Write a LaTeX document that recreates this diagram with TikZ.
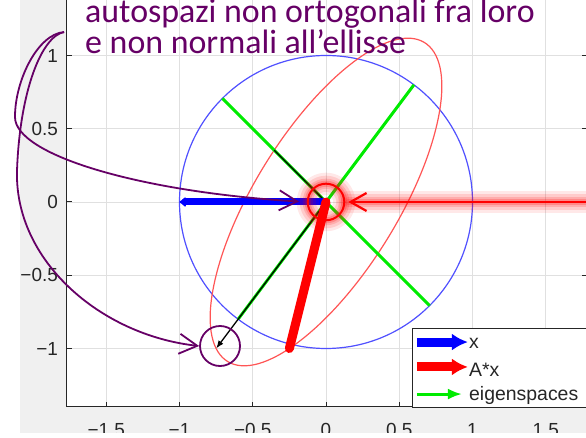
\documentclass[tikz,border=0pt]{standalone}
\usepackage{fontspec}
\setmainfont{Liberation Sans}
\newfontfamily\notefont{Carlito}
\usetikzlibrary{arrows.meta,positioning}
\definecolor{figgray}{RGB}{240,240,240}
\definecolor{gridgray}{RGB}{224,224,224}
\definecolor{axisgray}{RGB}{38,38,38}
\definecolor{notepurple}{RGB}{102,0,102}
\definecolor{circleblue}{RGB}{80,80,255}
\definecolor{ellipsered}{RGB}{255,85,85}
\definecolor{eiggreen}{RGB}{0,235,0}
\tikzset{
  plot-grid/.style={draw=gridgray, line width=0.9bp},
  plot-axis/.style={draw=axisgray, line width=1bp},
  plot-tick/.style={font=\fontsize{19}{22}\selectfont, text=axisgray, inner sep=0pt},
  unit-circle/.style={draw=circleblue, line width=1.2bp},
  image-ellipse/.style={draw=ellipsered, line width=1.2bp},
  eigen-line/.style={draw=eiggreen, line width=3bp},
  eigen-image/.style={draw=black, line width=1.3bp},
  x-vec/.style={draw=blue, line width=7bp, line cap=round},
  ax-vec/.style={draw=red, line width=9bp, line cap=round},
  legend-box/.style={draw=axisgray, fill=white, line width=1bp, inner sep=0pt},
  legend-vec/.style={line width=9bp, -{Latex[length=16bp,width=17bp]}},
  legend-eig/.style={draw=eiggreen, line width=3bp, -{Latex[length=14bp,width=11bp]}},
  legend-label/.style={font=\fontsize{19.5}{22}\selectfont, text=axisgray, anchor=base west, inner sep=0pt},
  red-ring/.style={circle, draw=red, line width=2bp, minimum size=36.6bp, inner sep=0pt},
  red-glow/.style={draw=red, opacity=#1, line cap=round, line join=round},
  red-note/.style={draw=red, line width=2.2bp, -{Straight Barb[length=16bp,width=18bp]}},
  note-arrow/.style={draw=notepurple, line width=1.8bp, -{Straight Barb[length=18bp,width=20bp]}},
  note-circle/.style={circle, draw=notepurple, line width=1.8bp, minimum size=40bp, inner sep=0pt},
  note-text/.style={anchor=base west, inner sep=0pt, text=notepurple,
    font=\notefont\fontsize{34}{30}\selectfont}
}
\begin{document}
\begin{tikzpicture}[x=146.5bp, y=146.5bp]
  \useasboundingbox (-2.2253,-1.6109) rectangle (1.7747,1.3788);

  % figure window, cropped
  \begin{scope}
    \clip (-2.0887,-1.5768) rectangle (1.7747,1.3788);
    \fill[figgray] (-2.1,-1.6) rectangle (1.8,1.4);
    \fill[white] (-1.770,-1.3993) rectangle (1.78,1.4);
    \foreach \gx in {-1.5,-1,-0.5,0,0.5,1,1.5}
      \draw[plot-grid] (\gx,-1.3993) -- (\gx,1.4);
    \foreach \gy in {-1,-0.5,0,0.5,1}
      \draw[plot-grid] (-1.770,\gy) -- (1.78,\gy);

    \coordinate (O) at (0,0);
    \coordinate (x-end) at (-1,0);
    \coordinate (ax-end) at (-0.25,-1);
    \coordinate (eig1-a) at (-0.6,-0.8);
    \coordinate (eig1-b) at (0.6,0.8);
    \coordinate (eig2-a) at (-0.7071,0.7071);
    \coordinate (eig2-b) at (0.7071,-0.7071);
    \coordinate (aeig1) at (-0.75,-1);
    \coordinate (aeig2) at (-0.3536,0.3536);

    % circle and its image
    \draw[unit-circle] (O) circle[radius=1];
    \draw[image-ellipse, cm={0.25,1,0.75,0.5,(0,0)}] (O) circle[radius=1];

    % eigenspaces and their images
    \draw[eigen-line] (eig1-a) -- (eig1-b);
    \draw[eigen-line] (eig2-a) -- (eig2-b);
    \draw[eigen-image, -{Latex[length=8bp,width=6bp]}] (O) -- (aeig1);
    \draw[eigen-image] (O) -- (aeig2);

    % x and A*x
    \draw[x-vec, -{Latex[length=7bp,width=12bp,round]}] (O) -- (x-end);
    \draw[ax-vec] (O) -- (ax-end);

    % axes
    \draw[plot-axis] (-1.770,1.4) -- (-1.770,-1.3993) -- (1.78,-1.3993) -- (1.78,1.4);
    \foreach \gx in {-1.5,-1,-0.5,0,0.5,1,1.5}
      \draw[plot-axis] (\gx,-1.3993) -- ++(0,0.035);
    \foreach \gy in {-1,-0.5,0,0.5,1} {
      \draw[plot-axis] (-1.770,\gy) -- ++(0.035,0);
      \draw[plot-axis] (1.78,\gy) -- ++(-0.035,0);
    }
    \foreach \gx/\lab [count=\k] in {-1.5/−1.5,-1/−1,-0.5/−0.5,0/0,0.5/0.5,1/1,1.5/1.5}
      \node[plot-tick, anchor=north] (xtick\k) at (\gx,-1.509) {\lab};
    \foreach \gy/\lab [count=\k] in {-1/−1,-0.5/−0.5,0/0,0.5/0.5,1/1}
      \node[plot-tick, anchor=east] (ytick\k) at (-1.829,\gy) {\lab};

    % legend
    \node[legend-box, anchor=north west, minimum width=180bp, minimum height=79bp] (legend) at (0.587,-0.860) {};
    \draw[legend-vec, draw=blue, fill=blue] (0.621,-0.956) -- (0.969,-0.956);
    \draw[legend-vec, draw=red, fill=red] (0.621,-1.126) -- (0.969,-1.126);
    \draw[legend-eig, fill=eiggreen] (0.621,-1.311) -- (0.928,-1.311);
    \node[legend-label] (lab-x) at (0.976,-1.003) {x};
    \node[legend-label] (lab-ax) at (0.976,-1.188) {A*x};
    \node[legend-label] (lab-eig) at (0.976,-1.352) {eigenspaces};
  \end{scope}

  % red highlight on the origin
  \node[red-ring] (rc) at (O) {};
  \coordinate (red-from) at (1.80,0);
  \foreach \w/\op in {22bp/0.09,16bp/0.12,10bp/0.15,6bp/0.2} {
    \draw[red-glow=\op, line width=\w] (rc.center) circle[radius=18.3bp];
    \draw[red-glow=\op, line width=\w, shorten >=3bp] (red-from) -- (rc.east);
  }
  \draw[red-note, shorten >=3bp] (red-from) -- (rc.east);

  % purple notes
  \coordinate (note-start) at (-1.788,1.160);
  \node[note-circle] (pc) at (-0.7235,-0.983) {};
  \draw[note-arrow, shorten >=7.7bp] (note-start)
    .. controls (-1.966,1.147) and (-2.123,0.833) .. (-2.123,0.580)
    .. controls (-2.123,0.321) and (-1.270,0.068) .. (rc.west);
  \draw[note-arrow] (note-start)
    .. controls (-1.939,1.133) and (-2.089,0.765) .. (-2.109,0.218)
    .. controls (-2.130,-0.396) and (-1.543,-0.908) .. (pc.west);
  \node[note-text] (note1) at (-1.645,1.222) {autospazi non ortogonali fra loro};
  \node[note-text] (note2) at (-1.645,1.017) {e non normali all’ellisse};
\end{tikzpicture}
\end{document}
